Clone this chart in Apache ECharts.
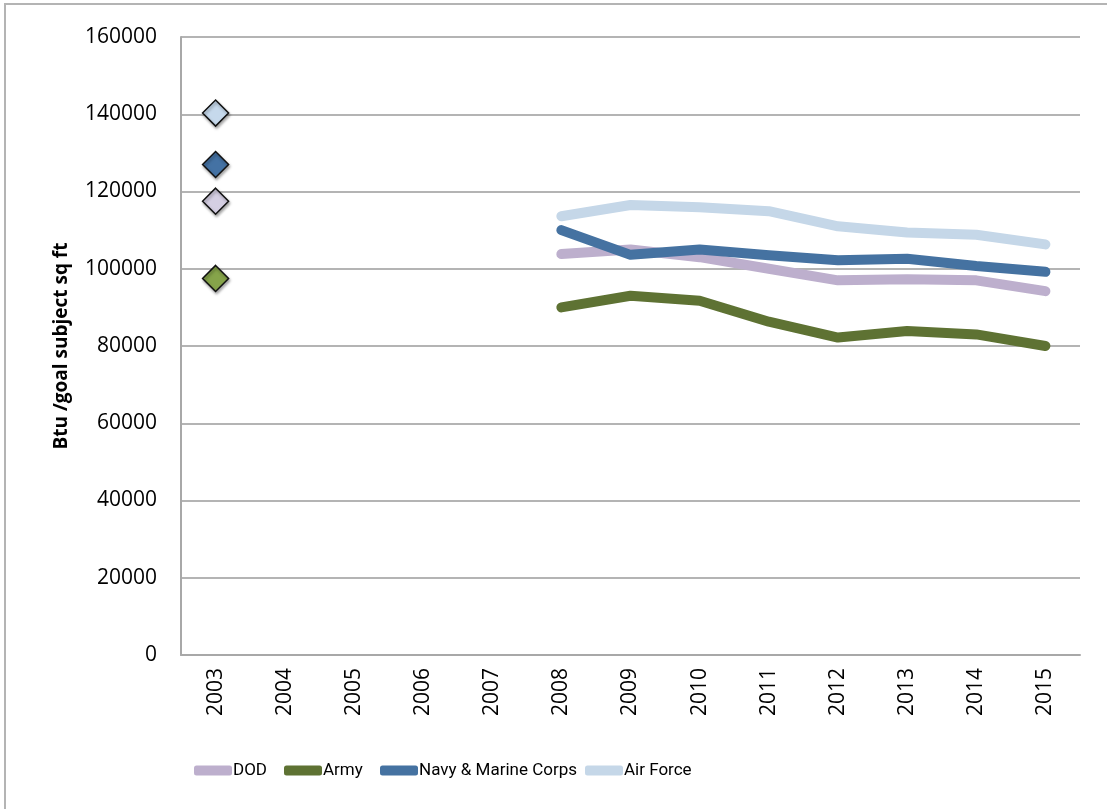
<!DOCTYPE html>
<html>
<head>
<meta charset="utf-8">
<script src="https://cdn.jsdelivr.net/npm/echarts@6/dist/echarts.min.js"></script>
<style>
  html, body { margin: 0; padding: 0; background: #fff; }
  #chart { position: absolute; left: 0; top: 0; width: 1107px; height: 809px; }
  #frame { position: absolute; left: 4px; top: 3px; width: 1110px; height: 820px;
           border-left: 2px solid #b4b4b4; border-top: 2px solid #b4b4b4; pointer-events: none; }
</style>
</head>
<body>
<div id="chart"></div>
<div id="frame"></div>
<script>
// years on the x axis
const years = ['2003', '2004', '2005', '2006', '2007', '2008', '2009', '2010', '2011', '2012', '2013', '2014', '2015'];

// Btu per goal subject sq ft (2003 baseline, gap 2004-2007)
const dod = [117500, null, null, null, null, 103800, 105000, 103000, 100000, 97000, 97300, 97000, 94200];
const army = [97500, null, null, null, null, 90000, 93000, 91700, 86300, 82200, 83900, 83000, 80000];
const navy = [127000, null, null, null, null, 110000, 103600, 105000, 103500, 102200, 102600, 100700, 99200];
const airForce = [140300, null, null, null, null, 113600, 116500, 115900, 114900, 111000, 109400, 108800, 106300];

const seriesNames = ['DOD', 'Army', 'Navy & Marine Corps', 'Air Force'];
const lineColors = ['#bdafcd', '#5e7233', '#4572a1', '#c5d7e8'];
const markerColors = ['#d5cfe3', '#86a44a', '#4472a4', '#c6d9ec'];
const legendLefts = [189, 279, 375, 580];

const chart = echarts.init(document.getElementById('chart'));

function makeSeries(name, values, i) {
    return {
        name: name,
        type: 'line',
        color: lineColors[i],
        lineStyle: { width: 10, cap: 'round', join: 'round', color: lineColors[i] },
        symbol: 'none',
        connectNulls: false,
        silent: true,
        z: i === 2 ? 4 : 2,
        data: values.map((v, k) => {
            if (k === 0) {
                return {
                    value: v,
                    symbol: 'diamond',
                    symbolSize: [26, 26],
                    itemStyle: {
                        color: markerColors[i],
                        borderColor: '#111',
                        borderWidth: 1.5,
                        shadowBlur: 3,
                        shadowOffsetX: 1,
                        shadowOffsetY: 2,
                        shadowColor: 'rgba(0,0,0,0.35)'
                    }
                };
            }
            return v;
        })
    };
}

// one legend per item so each sits where the original puts it
const legends = seriesNames.map((n, i) => ({
    data: [n],
    left: legendLefts[i],
    top: 757,
    icon: 'roundRect',
    itemWidth: 38,
    itemHeight: 10,
    textStyle: { fontFamily: 'Roboto, sans-serif', fontSize: 17, color: '#000', padding: [0, 0, 0, -4] }
}));

const option = {
    animation: false,
    grid: { left: 181, top: 37, right: 27, bottom: 154, containLabel: false },
    legend: legends,
    xAxis: {
        type: 'category',
        data: years,
        boundaryGap: true,
        axisLine: { lineStyle: { color: '#a8a8a8', width: 2 } },
        axisTick: { show: false },
        axisLabel: {
            rotate: 90,
            margin: 13,
            color: '#000',
            fontFamily: 'Open Sans, sans-serif',
            fontSize: 21
        }
    },
    yAxis: {
        type: 'value',
        min: 0,
        max: 160000,
        interval: 20000,
        name: 'Btu /goal subject sq ft',
        nameLocation: 'middle',
        nameGap: 110,
        nameTextStyle: { fontFamily: 'Open Sans, sans-serif', fontWeight: 'bold', fontSize: 19, color: '#000' },
        axisLine: { show: true, lineStyle: { color: '#a8a8a8', width: 2 } },
        axisTick: { show: false },
        splitLine: { lineStyle: { color: '#b4b4b4', width: 2 } },
        axisLabel: {
            margin: 24,
            color: '#000',
            fontFamily: 'Open Sans, sans-serif',
            fontSize: 21,
            formatter: v => String(v)
        }
    },
    series: [
        makeSeries(seriesNames[0], dod, 0),
        makeSeries(seriesNames[1], army, 1),
        makeSeries(seriesNames[2], navy, 2),
        makeSeries(seriesNames[3], airForce, 3)
    ]
};

chart.setOption(option);
</script>
</body>
</html>
